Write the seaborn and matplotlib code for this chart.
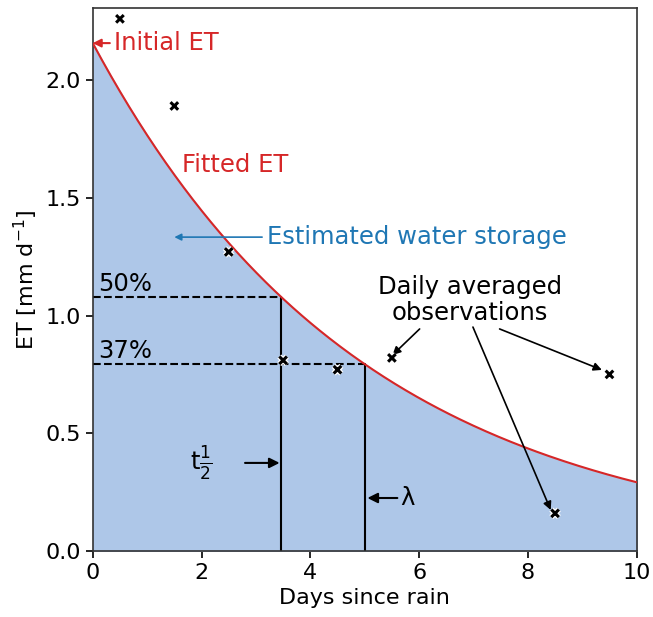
import numpy as np
import pandas as pd
import seaborn as sb
import matplotlib.pyplot as plt
import matplotlib.patheffects as pe

# DATA #
obs_days = [0.5, 1.5, 2.5, 3.5, 4.5, 5.5, 8.5, 9.5]
obs_et = [2.26, 1.89, 1.27, 0.81, 0.77, 0.82, 0.16, 0.75]
et_initial = 2.157   # fitted initial ET
lam = 5.0            # fitted e-folding time (days)

t_half = lam * np.log(2)
days = np.linspace(0, 10, 300)
fit = pd.DataFrame({"Days": days, "ET": et_initial * np.exp(-days / lam)})
obs = pd.DataFrame({"Days": obs_days, "ET": obs_et})

red = "#d62728"
blue = "#1f77b4"

# PLOTTING #
sb.set_style("ticks")
plt.rcParams["font.family"] = ["DejaVu Sans"]
for k in ["text.color", "axes.labelcolor", "xtick.color", "ytick.color"]:
    plt.rcParams[k] = "k"
fig = plt.figure(figsize=(6.53, 6.17), dpi=100)
ax = fig.add_axes([0.142, 0.107, 0.833, 0.880])

ax.fill_between(fit["Days"], 0, fit["ET"], color="#aec7e8", zorder=1)
sb.lineplot(x="Days", y="ET", data=fit, color=red, lw=1.5, ax=ax, zorder=3)

# half-life and e-folding markers
y_half = et_initial / 2
y_lam = et_initial * np.exp(-1)
ax.plot([0, t_half], [y_half, y_half], "k--", lw=1.5, zorder=2)
ax.plot([0, lam], [y_lam, y_lam], "k--", lw=1.5, zorder=2)
ax.plot([t_half, t_half], [0, y_half], "k-", lw=1.5, zorder=2)
ax.plot([lam, lam], [0, y_lam], "k-", lw=1.5, zorder=2)

sb.scatterplot(x="Days", y="ET", data=obs, marker="x", s=30, linewidth=2.2,
               color="k", ax=ax, zorder=5)
ax.collections[-1].set_path_effects([pe.withStroke(linewidth=4, foreground="w")])

fs = 17.5
arr = dict(arrowstyle="-|>", color="k", lw=1.5, mutation_scale=15)

ax.annotate("Initial ET", xy=(0, et_initial), xytext=(0.4, et_initial), color=red,
            fontsize=fs, va="center", ha="left",
            arrowprops=dict(arrowstyle="-|>", color=red, lw=1.5, mutation_scale=12,
                            shrinkA=1, shrinkB=0))
ax.text(1.65, 1.64, "Fitted ET", color=red, fontsize=fs, va="center", ha="left")
ax.annotate("Estimated water storage", xy=(1.5, 1.333), xytext=(3.2, 1.333), color=blue,
            fontsize=fs, va="center", ha="left",
            arrowprops=dict(arrowstyle="-|>", color=blue, lw=1.2, mutation_scale=10,
                            shrinkA=1, shrinkB=0))
ax.text(0.1, y_half + 0.005, "50%", fontsize=fs, va="bottom", ha="left")
ax.text(0.1, y_lam + 0.005, "37%", fontsize=fs, va="bottom", ha="left")

ax.text(1.78, 0.374, r"t$\frac{1}{2}$", fontsize=fs, va="center", ha="left")
ax.annotate("", xy=(t_half - 0.03, 0.374), xytext=(2.8, 0.374),
            arrowprops=dict(arr, shrinkA=0, shrinkB=0))
ax.annotate("", xy=(lam + 0.05, 0.225), xytext=(5.6, 0.225),
            arrowprops=dict(arr, shrinkA=0, shrinkB=0))
ax.text(5.65, 0.225, "λ", fontsize=fs, va="center", ha="left")

ax.text(6.93, 1.066, "Daily averaged\nobservations", fontsize=fs, va="center",
        ha="center", linespacing=1.1)
for (x0, y0), (x1, y1) in [((6.01, 0.943), (5.51, 0.832)),
                           ((6.99, 0.951), (8.42, 0.174)),
                           ((7.48, 0.943), (9.36, 0.769))]:
    ax.annotate("", xy=(x1, y1), xytext=(x0, y0),
                arrowprops=dict(arrowstyle="-|>", color="k", lw=1.2,
                                mutation_scale=12, shrinkA=0, shrinkB=0))

ax.set_xlim(0, 10)
ax.set_ylim(0, 2.306)
ax.set_xticks([0, 2, 4, 6, 8, 10])
ax.set_yticks([0.0, 0.5, 1.0, 1.5, 2.0])
ax.set_yticklabels(["0.0", "0.5", "1.0", "1.5", "2.0"])
ax.set_xlabel("Days since rain", fontsize=16)
ax.set_ylabel(r"ET [mm d$^{-1}$]", fontsize=16)
ax.tick_params(labelsize=16, length=5, width=1.2)
for s in ax.spines.values():
    s.set_linewidth(1.2)
    s.set_color("#333333")

plt.savefig("out.png", dpi=100)
